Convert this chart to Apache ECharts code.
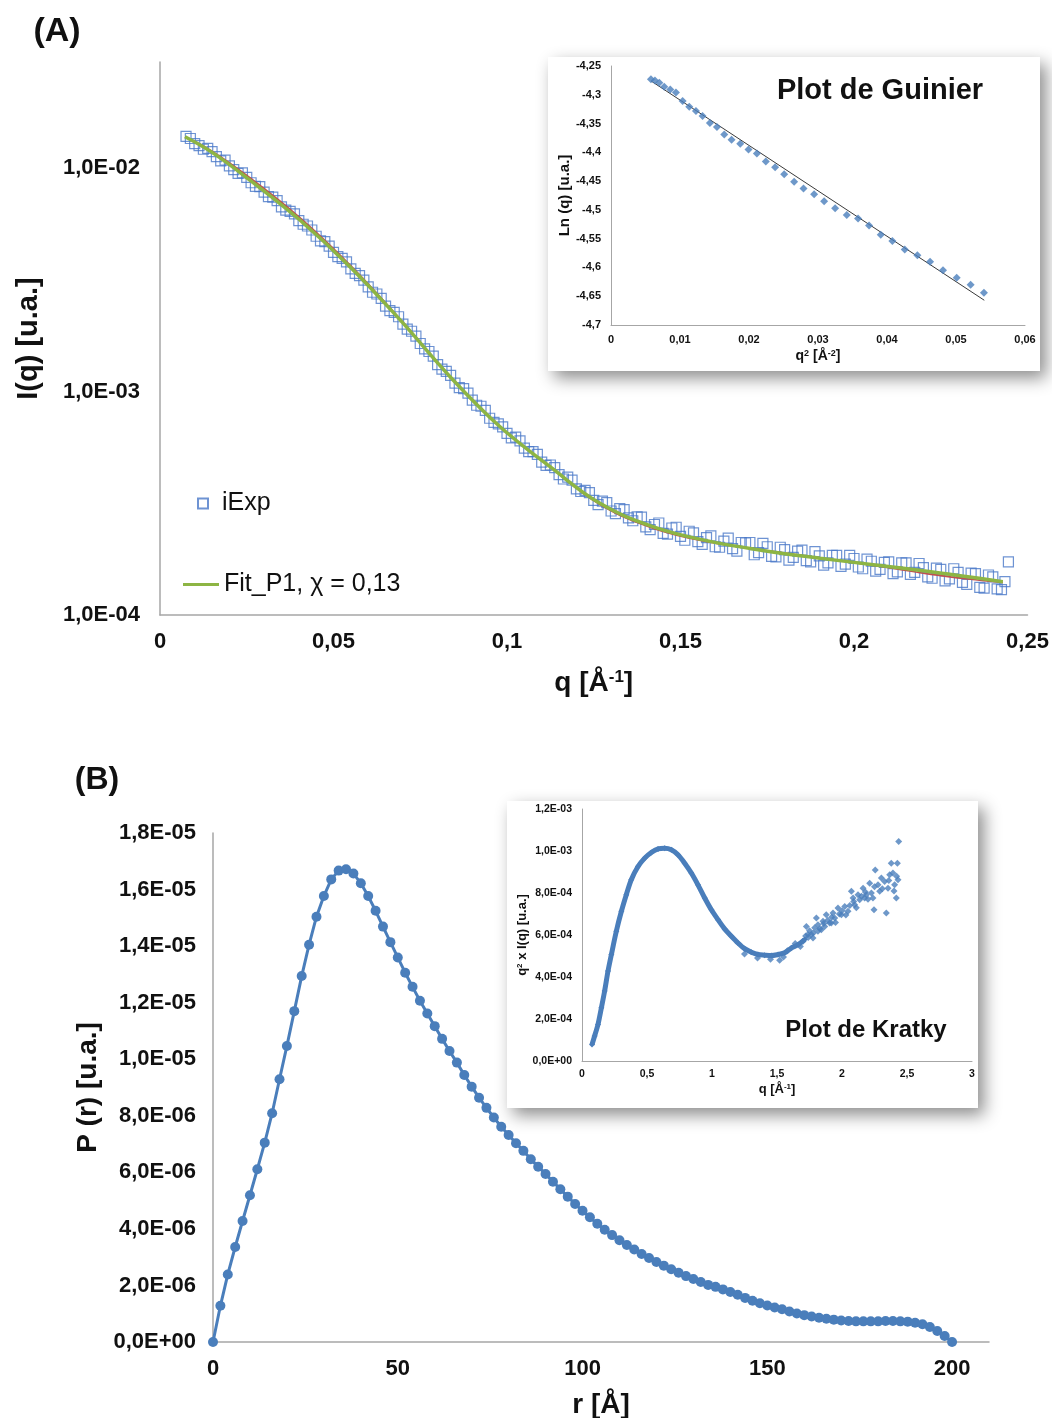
<!DOCTYPE html>
<html>
<head>
<meta charset="utf-8">
<script src="https://cdn.jsdelivr.net/npm/echarts@6/dist/echarts.min.js"></script>
<style>
  html, body { margin: 0; padding: 0; background: #ffffff; }
  #chart { width: 1052px; height: 1418px; }
</style>
</head>
<body>
<div id="chart"></div>
<script>
// ---------- (A) SAXS intensity I(q), log scale ----------
const qExp = [0.0075,0.0100,0.0125,0.0150,0.0175,0.0200,0.0225,0.0250,0.0275,0.0300,
  0.0325,0.0350,0.0375,0.0400,0.0425,0.0450,0.0475,0.0500,0.0525,0.0550,
  0.0575,0.0600,0.0625,0.0650,0.0675,0.0700,0.0725,0.0750,0.0775,0.0800,
  0.0825,0.0850,0.0875,0.0900,0.0925,0.0950,0.0975,0.1000,0.1025,0.1050,
  0.1075,0.1100,0.1125,0.1150,0.1175,0.1200,0.1225,0.1250,0.1275,0.1300,
  0.1325,0.1350,0.1375,0.1400,0.1425,0.1450,0.1475,0.1500,0.1525,0.1550,
  0.1575,0.1600,0.1625,0.1650,0.1675,0.1700,0.1725,0.1750,0.1775,0.1800,
  0.1825,0.1850,0.1875,0.1900,0.1925,0.1950,0.1975,0.2000,0.2025,0.2050,
  0.2075,0.2100,0.2125,0.2150,0.2175,0.2200,0.2225,0.2250,0.2275,0.2300,
  0.2325,0.2350,0.2375,0.2400,0.2425,0.2435,0.2445,
  0.00875,0.01125,0.01375,0.01625,0.01875,0.02125,0.02375,0.02625,0.02875,0.03125,
  0.03375,0.03625,0.03875,0.04125,0.04375,0.04625,0.04875,0.05125,0.05375,0.05625,
  0.05875,0.06125,0.06375,0.06625,0.06875,0.07125,0.07375,0.07625,0.07875,0.08125,
  0.08375,0.08625,0.08875,0.09125,0.09375,0.09625,0.09875,0.10125,0.10375,0.10625,
  0.10875,0.11125,0.11375,0.11625,0.11875,0.12125,0.12375,0.12625,0.12875,0.13125,
  0.13375,0.13625,0.13875,0.14125,0.14375,0.14625,0.14875,0.15125,0.15375,0.15625,
  0.15875,0.16125,0.16375,0.16625,0.16875,0.17125,0.17375,0.17625,0.17875,0.18125,
  0.18375,0.18625,0.18875,0.19125,0.19375,0.19625,0.19875,0.20125,0.20375,0.20625,
  0.20875,0.21125,0.21375,0.21625,0.21875,0.22125,0.22375,0.22625,0.22875,0.23125,
  0.23375,0.23625,0.23875,0.24125];
const iExp = [1.384e-2,1.285e-2,1.213e-2,1.183e-2,1.076e-2,1.021e-2,9.46e-3,9.08e-3,8.28e-3,7.80e-3,
  7.41e-3,6.70e-3,6.40e-3,5.82e-3,5.50e-3,4.95e-3,4.68e-3,4.19e-3,3.94e-3,3.54e-3,
  3.30e-3,2.94e-3,2.73e-3,2.41e-3,2.26e-3,2.00e-3,1.86e-3,1.64e-3,1.51e-3,1.32e-3,
  1.23e-3,1.09e-3,1.03e-3,9.14e-4,8.59e-4,7.59e-4,7.16e-4,6.50e-4,6.25e-4,5.58e-4,
  5.38e-4,4.83e-4,4.69e-4,4.25e-4,4.14e-4,3.67e-4,3.61e-4,3.26e-4,3.23e-4,2.92e-4,
  2.99e-4,2.72e-4,2.75e-4,2.48e-4,2.54e-4,2.32e-4,2.45e-4,2.25e-4,2.37e-4,2.13e-4,
  2.22e-4,2.02e-4,2.14e-4,1.98e-4,2.11e-4,2.11e-4,1.90e-4,2.02e-4,1.82e-4,1.96e-4,
  1.81e-4,1.95e-4,1.73e-4,1.84e-4,1.71e-4,1.85e-4,1.69e-4,1.79e-4,1.61e-4,1.74e-4,
  1.60e-4,1.73e-4,1.56e-4,1.71e-4,1.55e-4,1.63e-4,1.46e-4,1.60e-4,1.45e-4,1.55e-4,
  1.37e-4,1.53e-4,1.32e-4,1.48e-4,1.30e-4,1.41e-4,1.73e-4,
  1.355e-2,1.258e-2,1.225e-2,1.125e-2,1.085e-2,9.84e-3,9.50e-3,8.59e-3,8.25e-3,7.44e-3,
  7.14e-3,6.48e-3,6.23e-3,5.60e-3,5.28e-3,4.72e-3,4.47e-3,4.01e-3,3.80e-3,3.38e-3,
  3.15e-3,2.78e-3,2.61e-3,2.30e-3,2.16e-3,1.90e-3,1.77e-3,1.55e-3,1.44e-3,1.26e-3,
  1.18e-3,1.04e-3,9.83e-4,8.68e-4,8.23e-4,7.27e-4,6.95e-4,6.20e-4,6.01e-4,5.38e-4,
  5.23e-4,4.67e-4,4.56e-4,4.06e-4,4.01e-4,3.57e-4,3.53e-4,3.12e-4,3.18e-4,2.84e-4,
  2.96e-4,2.64e-4,2.74e-4,2.41e-4,2.58e-4,2.30e-4,2.47e-4,2.16e-4,2.33e-4,2.07e-4,
  2.26e-4,2.01e-4,2.21e-4,1.93e-4,2.10e-4,1.86e-4,2.09e-4,1.83e-4,2.01e-4,1.76e-4,
  1.93e-4,1.75e-4,1.92e-4,1.67e-4,1.85e-4,1.65e-4,1.85e-4,1.64e-4,1.78e-4,1.57e-4,
  1.72e-4,1.53e-4,1.71e-4,1.52e-4,1.70e-4,1.48e-4,1.62e-4,1.42e-4,1.61e-4,1.40e-4,
  1.54e-4,1.33e-4,1.51e-4,1.31e-4];

// model curves
const qFit = [0.0072,0.0150,0.0259,0.0403,0.0548,0.0692,0.0836,0.0980,0.1124,0.1268,
  0.1422,0.1582,0.1742,0.1902,0.2062,0.2222,0.2328,0.2429];
const iFitP1 = [1.380e-2,1.175e-2,8.83e-3,5.85e-3,3.61e-3,2.09e-3,1.164e-3,6.95e-4,4.61e-4,3.16e-4,
  2.48e-4,2.14e-4,1.94e-4,1.795e-4,1.675e-4,1.563e-4,1.483e-4,1.41e-4];
const iFitRef = [1.380e-2,1.19e-2,9.05e-3,6.00e-3,3.68e-3,2.11e-3,1.17e-3,6.95e-4,4.60e-4,3.12e-4,
  2.44e-4,2.12e-4,1.95e-4,1.80e-4,1.66e-4,1.52e-4,1.45e-4,1.40e-4];

// Guinier plot (inset of A)
const guinierQ2 = [0.00579,0.00637,0.00700,0.00772,0.00859,0.00941,0.01038,0.01134,0.01231,0.01327,
  0.01433,0.01535,0.01641,0.01747,0.01873,0.01993,0.02114,0.02244,0.02379,0.02510,
  0.02654,0.02790,0.02944,0.03089,0.03248,0.03417,0.03581,0.03740,0.03909,0.04078,
  0.04257,0.04440,0.04624,0.04812,0.05010,0.05212,0.05405];
const guinierLn = [-4.273,-4.275,-4.279,-4.286,-4.291,-4.296,-4.311,-4.321,-4.328,-4.337,
  -4.349,-4.356,-4.369,-4.378,-4.385,-4.395,-4.402,-4.416,-4.426,-4.438,
  -4.451,-4.463,-4.473,-4.485,-4.497,-4.509,-4.515,-4.527,-4.543,-4.554,
  -4.569,-4.579,-4.590,-4.605,-4.618,-4.630,-4.644];
const guinierFitQ2 = [0.0058, 0.0541];
const guinierFitLn = [-4.276, -4.657];

// ---------- (B) pair distance distribution P(r) ----------
const rValues = [0,2,4,6,8,10,12,14,16,18,20,22,24,26,28,30,32,34,36,38,
  40,42,44,46,48,50,52,54,56,58,60,62,64,66,68,70,72,74,76,78,
  80,82,84,86,88,90,92,94,96,98,100,102,104,106,108,110,112,114,116,118,
  120,122,124,126,128,130,132,134,136,138,140,142,144,146,148,150,152,154,156,158,
  160,162,164,166,168,170,172,174,176,178,180,182,184,186,188,190,192,194,196,198,200];
const prValues = [0,1.28e-6,2.39e-6,3.36e-6,4.28e-6,5.19e-6,6.11e-6,7.05e-6,8.09e-6,9.29e-6,
  10.47e-6,11.70e-6,12.94e-6,14.05e-6,15.04e-6,15.77e-6,16.36e-6,16.67e-6,16.72e-6,16.57e-6,
  16.22e-6,15.77e-6,15.25e-6,14.69e-6,14.14e-6,13.60e-6,13.06e-6,12.56e-6,12.07e-6,11.62e-6,
  11.17e-6,10.72e-6,10.29e-6,9.88e-6,9.44e-6,9.03e-6,8.64e-6,8.28e-6,7.94e-6,7.61e-6,
  7.32e-6,7.03e-6,6.76e-6,6.46e-6,6.20e-6,5.94e-6,5.67e-6,5.40e-6,5.14e-6,4.88e-6,
  4.64e-6,4.41e-6,4.18e-6,3.97e-6,3.78e-6,3.60e-6,3.43e-6,3.27e-6,3.11e-6,2.97e-6,
  2.83e-6,2.70e-6,2.57e-6,2.45e-6,2.33e-6,2.23e-6,2.12e-6,2.02e-6,1.95e-6,1.86e-6,
  1.77e-6,1.67e-6,1.56e-6,1.46e-6,1.37e-6,1.29e-6,1.22e-6,1.16e-6,1.08e-6,1.01e-6,
  0.95e-6,0.90e-6,0.86e-6,0.82e-6,0.79e-6,0.76e-6,0.74e-6,0.73e-6,0.73e-6,0.73e-6,
  0.73e-6,0.74e-6,0.74e-6,0.73e-6,0.72e-6,0.68e-6,0.63e-6,0.53e-6,0.39e-6,0.21e-6,0];

// Kratky plot (inset of B): dense low-q band and noisy high-q points
const kratkyQ = [0.077,0.097,0.123,0.149,0.174,0.200,0.226,0.264,0.303,0.341,
  0.379,0.431,0.482,0.533,0.585,0.636,0.687,0.738,0.790,0.841,
  0.892,0.944,0.995,1.046,1.097,1.149,1.200,1.251,1.303,1.354,
  1.405,1.456,1.508,1.559,1.610,1.662,1.713];
const kratkyV = [7.9e-5,1.19e-4,1.74e-4,2.53e-4,3.33e-4,4.28e-4,5.07e-4,6.18e-4,7.13e-4,7.92e-4,
  8.63e-4,9.26e-4,9.66e-4,9.93e-4,1.010e-3,1.013e-3,1.006e-3,9.82e-4,9.42e-4,8.95e-4,
  8.39e-4,7.76e-4,7.20e-4,6.73e-4,6.29e-4,5.94e-4,5.62e-4,5.35e-4,5.18e-4,5.07e-4,
  5.04e-4,5.02e-4,5.07e-4,5.15e-4,5.38e-4,5.54e-4,5.78e-4];
const kratkyTailQ = [1.25,1.35,1.45,1.52,1.55,1.58,1.64,1.68,1.70,1.72,1.726,1.738,1.74,1.75,
  1.764,1.777,1.78,1.79,1.803,1.815,1.815,1.83,1.841,1.854,1.86,1.867,1.879,1.89,
  1.905,1.918,1.92,1.931,1.944,1.95,1.969,1.98,1.995,2.00,2.021,2.03,2.046,2.06,
  2.072,2.085,2.09,2.097,2.11,2.123,2.136,2.15,2.162,2.174,2.18,2.187,2.20,2.213,
  2.226,2.238,2.246,2.25,2.256,2.277,2.29,2.303,2.31,2.328,2.341,2.354,2.36,2.367,
  2.379,2.392,2.40,2.405,2.418,2.42,2.426,2.431,2.436];
const kratkyTailV = [5.10e-4,4.90e-4,4.85e-4,4.80e-4,4.95e-4,5.25e-4,5.60e-4,5.45e-4,5.70e-4,5.95e-4,6.41e-4,6.02e-4,5.88e-4,6.20e-4,
  6.02e-4,5.86e-4,6.10e-4,6.35e-4,6.81e-4,6.18e-4,6.49e-4,6.30e-4,6.25e-4,6.65e-4,6.55e-4,6.41e-4,6.97e-4,6.70e-4,
  6.57e-4,6.57e-4,6.85e-4,7.05e-4,6.81e-4,6.60e-4,7.28e-4,7.00e-4,6.97e-4,7.15e-4,7.36e-4,6.95e-4,7.13e-4,7.40e-4,
  8.08e-4,7.76e-4,7.60e-4,7.44e-4,7.30e-4,7.92e-4,7.68e-4,7.85e-4,8.23e-4,7.76e-4,8.05e-4,7.92e-4,7.70e-4,8.47e-4,
  8.00e-4,7.76e-4,7.20e-4,8.30e-4,9.10e-4,8.39e-4,8.08e-4,8.71e-4,8.20e-4,8.55e-4,7.05e-4,8.23e-4,8.60e-4,8.87e-4,
  9.42e-4,8.95e-4,8.10e-4,8.39e-4,7.76e-4,8.80e-4,9.42e-4,8.63e-4,1.045e-3];

// ---------- helpers ----------
const FONT = '"Liberation Sans", Arial, sans-serif';
const BLUE = '#4a7ebb';
const AXIS_GREY = '#a6a6a6';

function zip(xs, ys) { return xs.map((x, i) => [x, ys[i]]); }

// Excel-like scientific label: 1,0E-02
function sciLabel(v) {
  if (Math.abs(v) < 1e-15) return '0,0E+00';
  let e = Math.floor(Math.log10(Math.abs(v)) + 1e-9);
  let m = v / Math.pow(10, e);
  if (Math.abs(m) >= 9.95) { m /= 10; e += 1; }
  return m.toFixed(1).replace('.', ',') + 'E' + (e < 0 ? '-' : '+') + String(Math.abs(e)).padStart(2, '0');
}
function decLabel(v, d) { return String(parseFloat(v.toFixed(d))).replace('.', ','); }

function baseAxis(extra) {
  return Object.assign({
    axisLine: { show: true, lineStyle: { color: AXIS_GREY, width: 1.5 } },
    axisTick: { show: false },
    splitLine: { show: false },
    nameLocation: 'middle'
  }, extra);
}
function labelStyle(size, extra) {
  return Object.assign({ fontFamily: FONT, fontWeight: 'bold', fontSize: size, color: '#111' }, extra);
}
function nameStyle(size, supSize) {
  return {
    fontFamily: FONT, fontWeight: 'bold', fontSize: size, color: '#111',
    rich: {
      sup: { fontFamily: FONT, fontWeight: 'bold', fontSize: supSize, color: '#111', verticalAlign: 'top', lineHeight: Math.round(size * 0.9) }
    }
  };
}

const chart = echarts.init(document.getElementById('chart'), null, { renderer: 'canvas' });

const option = {
  animation: false,
  backgroundColor: '#ffffff',
  textStyle: { fontFamily: FONT },
  grid: [
    { left: 160, top: 62, width: 867.5, height: 553, outerBoundsMode: 'none' },   // A main
    { left: 611, top: 66, width: 414, height: 259, outerBoundsMode: 'none' },     // Guinier
    { left: 213, top: 833, width: 776, height: 509, outerBoundsMode: 'none' },    // B main
    { left: 582, top: 809, width: 390, height: 252, outerBoundsMode: 'none' }     // Kratky
  ],
  xAxis: [
    baseAxis({
      gridIndex: 0, type: 'value', min: 0, max: 0.25, interval: 0.05,
      axisLabel: labelStyle(22, { margin: 16, formatter: v => decLabel(v, 2) }),
      name: 'q [Å{sup|-1}]', nameGap: 54, nameTextStyle: nameStyle(28, 17)
    }),
    baseAxis({
      gridIndex: 1, type: 'value', min: 0, max: 0.06, interval: 0.01, z: 21,
      axisLine: { show: true, lineStyle: { color: AXIS_GREY, width: 1 } },
      axisLabel: labelStyle(11, { margin: 9, formatter: v => decLabel(v, 2) }),
      name: 'q{sup|2} [Å{sup|-2}]', nameGap: 24, nameTextStyle: nameStyle(14, 9)
    }),
    baseAxis({
      gridIndex: 2, type: 'value', min: 0, max: 210, interval: 50,
      axisLabel: labelStyle(22, { margin: 16, showMaxLabel: false, formatter: v => (v > 200 ? '' : String(v)) }),
      name: 'r [Å]', nameGap: 49, nameTextStyle: nameStyle(28, 17)
    }),
    baseAxis({
      gridIndex: 3, type: 'value', min: 0, max: 3, interval: 0.5, z: 21,
      axisLine: { show: true, lineStyle: { color: AXIS_GREY, width: 1 } },
      axisLabel: labelStyle(10.5, { margin: 8, formatter: v => decLabel(v, 1) }),
      name: 'q [Å{sup|-1}]', nameGap: 22, nameTextStyle: nameStyle(13, 8)
    })
  ],
  yAxis: [
    baseAxis({
      gridIndex: 0, type: 'log', logBase: 10, min: 1e-4, max: 0.0298,
      axisLabel: labelStyle(22, { margin: 20, showMaxLabel: false, formatter: v => sciLabel(v) }),
      name: 'I(q) [u.a.]', nameGap: 117, nameTextStyle: nameStyle(29, 18)
    }),
    baseAxis({
      gridIndex: 1, type: 'value', min: -4.7, max: -4.25, interval: 0.05, z: 21,
      axisLine: { show: true, lineStyle: { color: AXIS_GREY, width: 1 } },
      axisLabel: labelStyle(11, { margin: 10, formatter: v => decLabel(v, 2) }),
      name: 'Ln (q) [u.a.]', nameGap: 37, nameTextStyle: nameStyle(15, 10)
    }),
    baseAxis({
      gridIndex: 2, type: 'value', min: 0, max: 1.8e-5, interval: 2e-6,
      axisLabel: labelStyle(22, { margin: 17, formatter: v => sciLabel(v) }),
      name: 'P (r) [u.a.]', nameGap: 101, nameTextStyle: nameStyle(28, 17)
    }),
    baseAxis({
      gridIndex: 3, type: 'value', min: 0, max: 1.2e-3, interval: 2e-4, z: 21,
      axisLine: { show: true, lineStyle: { color: AXIS_GREY, width: 1 } },
      axisLabel: labelStyle(10.5, { margin: 10, formatter: v => sciLabel(v) }),
      name: 'q{sup|2} x I(q) [u.a.]', nameGap: 52, nameTextStyle: nameStyle(13, 8)
    })
  ],
  legend: [
    {
      data: ['iExp'], left: 192, top: 486, selectedMode: false,
      itemWidth: 10, itemHeight: 10,
      textStyle: { fontFamily: FONT, fontSize: 25, color: '#111', padding: [0, 0, 0, 9] }
    },
    {
      data: [{ name: 'Fit_P1, χ = 0,13', icon: 'rect' }], left: 178, top: 567, selectedMode: false,
      itemWidth: 36, itemHeight: 3,
      textStyle: { fontFamily: FONT, fontSize: 25, color: '#111' }
    }
  ],
  series: [
    {
      name: 'iExp', type: 'scatter', xAxisIndex: 0, yAxisIndex: 0, z: 3,
      symbol: 'rect', symbolSize: 10, silent: true,
      itemStyle: { color: 'rgba(255,255,255,0)', borderColor: '#4a78c8', borderWidth: 1.2 },
      data: zip(qExp, iExp)
    },
    {
      name: 'fitRef', type: 'line', xAxisIndex: 0, yAxisIndex: 0, z: 4,
      smooth: 0.4, showSymbol: false, silent: true,
      lineStyle: { color: '#c0504d', width: 1.6 },
      itemStyle: { color: '#c0504d' },
      data: zip(qFit, iFitRef)
    },
    {
      name: 'Fit_P1, χ = 0,13', type: 'line', xAxisIndex: 0, yAxisIndex: 0, z: 5,
      smooth: 0.4, showSymbol: false, silent: true,
      lineStyle: { color: '#8db544', width: 3.5 },
      itemStyle: { color: '#8db544' },
      data: zip(qFit, iFitP1)
    },
    {
      name: 'guinierData', type: 'scatter', xAxisIndex: 1, yAxisIndex: 1, z: 22,
      symbol: 'diamond', symbolSize: 8, silent: true,
      itemStyle: { color: BLUE },
      data: zip(guinierQ2, guinierLn)
    },
    {
      name: 'guinierFit', type: 'line', xAxisIndex: 1, yAxisIndex: 1, z: 22,
      showSymbol: false, silent: true,
      lineStyle: { color: '#3a3a3a', width: 1 },
      data: zip(guinierFitQ2, guinierFitLn)
    },
    {
      name: 'P(r)', type: 'line', xAxisIndex: 2, yAxisIndex: 2, z: 3,
      symbol: 'circle', symbolSize: 10, showAllSymbol: true, silent: true,
      lineStyle: { color: BLUE, width: 3 },
      itemStyle: { color: BLUE },
      data: zip(rValues, prValues)
    },
    {
      name: 'kratkyBand', type: 'line', xAxisIndex: 3, yAxisIndex: 3, z: 22,
      smooth: 0.3, symbol: 'diamond', symbolSize: 6, showAllSymbol: true, silent: true,
      lineStyle: { color: BLUE, width: 5 },
      itemStyle: { color: BLUE },
      data: zip(kratkyQ, kratkyV)
    },
    {
      name: 'kratkyTail', type: 'scatter', xAxisIndex: 3, yAxisIndex: 3, z: 22,
      symbol: 'diamond', symbolSize: 7, silent: true,
      itemStyle: { color: BLUE },
      data: zip(kratkyTailQ, kratkyTailV)
    }
  ],
  graphic: [
    {
      type: 'rect', z: 10, silent: true,
      shape: { x: 548, y: 57, width: 492, height: 314 },
      style: { fill: '#ffffff', shadowBlur: 16, shadowOffsetX: 6, shadowOffsetY: 7, shadowColor: 'rgba(0,0,0,0.45)' }
    },
    {
      type: 'rect', z: 10, silent: true,
      shape: { x: 507, y: 801, width: 471, height: 307 },
      style: { fill: '#ffffff', shadowBlur: 16, shadowOffsetX: 6, shadowOffsetY: 7, shadowColor: 'rgba(0,0,0,0.45)' }
    },
    {
      type: 'text', z: 50, silent: true,
      style: { text: '(A)', x: 57, y: 32, fill: '#111', font: 'bold 34px ' + FONT, textAlign: 'center', textVerticalAlign: 'middle', align: 'center', verticalAlign: 'middle' }
    },
    {
      type: 'text', z: 50, silent: true,
      style: { text: '(B)', x: 97, y: 780, fill: '#111', font: 'bold 32px ' + FONT, textAlign: 'center', textVerticalAlign: 'middle', align: 'center', verticalAlign: 'middle' }
    },
    {
      type: 'text', z: 50, silent: true,
      style: { text: 'Plot de Guinier', x: 880, y: 91, fill: '#111', font: 'bold 29px ' + FONT, textAlign: 'center', textVerticalAlign: 'middle', align: 'center', verticalAlign: 'middle' }
    },
    {
      type: 'text', z: 50, silent: true,
      style: { text: 'Plot de Kratky', x: 866, y: 1030, fill: '#111', font: 'bold 24px ' + FONT, textAlign: 'center', textVerticalAlign: 'middle', align: 'center', verticalAlign: 'middle' }
    }
  ]
};

chart.setOption(option);
</script>
</body>
</html>
